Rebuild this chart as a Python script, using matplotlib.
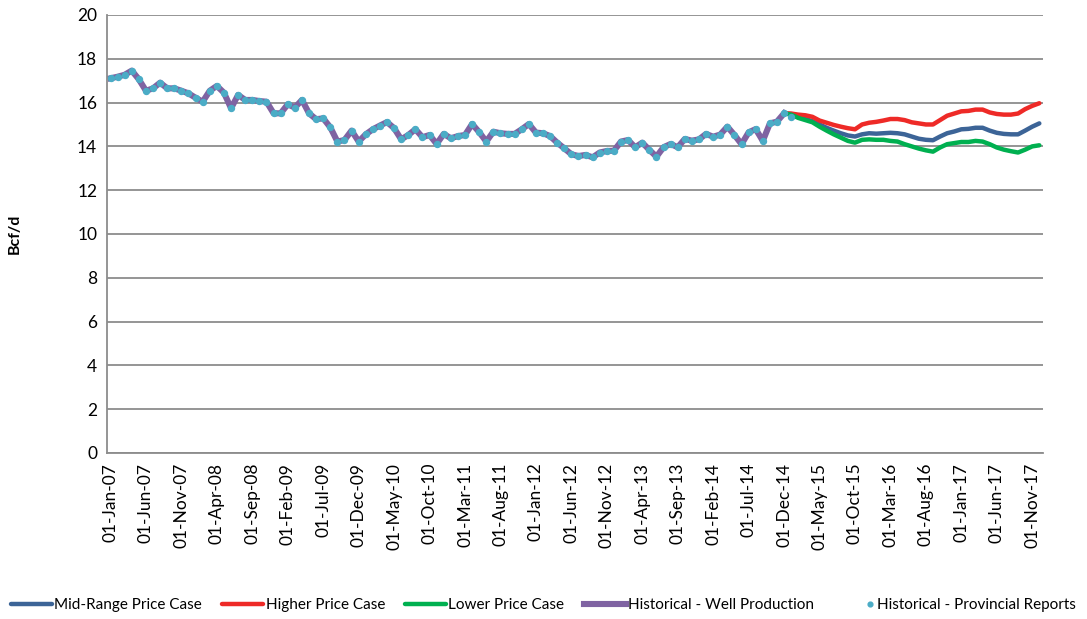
import matplotlib
matplotlib.use("Agg")
import matplotlib.pyplot as plt
from matplotlib.legend_handler import HandlerLine2D
import pandas as pd

plt.rcParams['font.family'] = ['Lato', 'DejaVu Sans']

# monthly axis Jan-2007 .. Dec-2017
months = pd.date_range("2007-01-01", periods=132, freq="MS")

# historical production (Jan-07 .. Jan-15), Bcf/d
historical = [
    17.11, 17.18, 17.27, 17.46, 17.06, 16.54, 16.65, 16.91, 16.65, 16.65, 16.54, 16.42,
    16.22, 16.04, 16.54, 16.76, 16.45, 15.74, 16.35, 16.12, 16.12, 16.07, 16.04, 15.51,
    15.51, 15.92, 15.77, 16.12, 15.51, 15.24, 15.28, 14.87, 14.22, 14.29, 14.72, 14.22,
    14.55, 14.78, 14.95, 15.11, 14.83, 14.32, 14.52, 14.78, 14.42, 14.52, 14.11, 14.57,
    14.37, 14.47, 14.52, 15.02, 14.65, 14.22, 14.67, 14.60, 14.57, 14.57, 14.78, 15.02,
    14.63, 14.60, 14.47, 14.17, 13.91, 13.64, 13.56, 13.61, 13.50, 13.72, 13.79, 13.80,
    14.22, 14.29, 13.96, 14.17, 13.84, 13.53, 13.96, 14.11, 13.96, 14.34, 14.26, 14.32,
    14.57, 14.44, 14.54, 14.90, 14.52, 14.10, 14.64, 14.79, 14.25, 15.05, 15.13, 15.51,
    15.36,
]
well_months = 96  # well production series stops at Dec-14

# projections (Dec-14 .. Dec-17)
proj_start = 95
mid_case = [
    15.51, 15.47, 15.35, 15.25, 15.15, 15.00, 14.85, 14.72, 14.60, 14.50, 14.45, 14.55,
    14.60, 14.58, 14.60, 14.62, 14.60, 14.55, 14.45, 14.35, 14.30, 14.28, 14.45, 14.60,
    14.68, 14.78, 14.80, 14.85, 14.85, 14.72, 14.62, 14.57, 14.55, 14.55, 14.72, 14.90,
    15.05,
]
high_case = [
    15.51, 15.50, 15.45, 15.42, 15.35, 15.18, 15.08, 14.98, 14.90, 14.83, 14.78, 15.00,
    15.08, 15.12, 15.18, 15.25, 15.25, 15.20, 15.10, 15.05, 15.00, 15.00, 15.20, 15.40,
    15.50, 15.60, 15.62, 15.68, 15.68, 15.55, 15.48, 15.45, 15.45, 15.50, 15.70, 15.85,
    15.97,
]
low_case = [
    15.51, 15.45, 15.30, 15.20, 15.10, 14.90, 14.72, 14.55, 14.40, 14.25, 14.17, 14.30,
    14.32, 14.30, 14.30, 14.25, 14.22, 14.10, 14.00, 13.90, 13.82, 13.76, 13.95, 14.10,
    14.15, 14.20, 14.20, 14.25, 14.22, 14.10, 13.95, 13.85, 13.78, 13.72, 13.85, 14.00,
    14.05,
]


class DotHandler(HandlerLine2D):
    # put the single legend dot next to its text, like Excel does
    def create_artists(self, legend, orig_handle, xdescent, ydescent, width, height,
                       fontsize, trans):
        arts = super().create_artists(legend, orig_handle, xdescent, ydescent, width,
                                      height, fontsize, trans)
        for a in arts:
            if a.get_marker() not in (None, "None", ""):
                a.set_xdata([width - 0.3 * fontsize])
        return arts


fig = plt.figure(figsize=(10.87, 6.19), dpi=100)
ax = fig.add_axes([0.0984, 0.2682, 0.861, 0.7076])

px = list(range(proj_start, proj_start + len(mid_case)))
ax.plot(px, mid_case, color="#3C6497", lw=3.2, solid_capstyle="round", label="Mid-Range Price Case")
ax.plot(px, high_case, color="#EE2A27", lw=3.2, solid_capstyle="round", label="Higher Price Case")
ax.plot(px, low_case, color="#00B050", lw=3.2, solid_capstyle="round", label="Lower Price Case")
ax.plot(range(well_months), historical[:well_months], color="#7F63A2", lw=4.4,
        solid_joinstyle="round", label="Historical - Well Production")
dots, = ax.plot(range(len(historical)), historical, ls="none", marker="o", ms=4.3,
                color="#4BACC6", label="Historical - Provincial Reports")

ax.set_xlim(-0.5, 131.5)
ax.set_ylim(0, 20)
ax.set_yticks(range(0, 21, 2))
ticks = list(range(0, 132, 5))
ax.set_xticks(ticks)
ax.set_xticklabels([months[i].strftime("%d-%b-%y") for i in ticks], rotation=90)
ax.tick_params(axis="x", length=0, labelsize=12.5, pad=7)
ax.tick_params(axis="y", length=0, labelsize=12.5, pad=7)

ax.grid(axis="y", color="#8C8C8C", lw=1.3)
ax.set_axisbelow(True)
for s in ["top", "right"]:
    ax.spines[s].set_visible(False)
for s in ["left", "bottom"]:
    ax.spines[s].set_color("#8C8C8C")
    ax.spines[s].set_linewidth(1.3)

ax.set_ylabel("Bcf/d", fontsize=11.5, fontweight="bold")
ax.yaxis.set_label_coords(-0.091, 0.5)

fig.legend(loc="center", bbox_to_anchor=(0.5, 0.022), ncol=5, frameon=False,
           fontsize=11, handlelength=2.7, handletextpad=0.15, columnspacing=1.3,
           markerscale=0.8, borderaxespad=0, borderpad=0,
           handler_map={dots: DotHandler()})

fig.savefig("out.png", dpi=100)
